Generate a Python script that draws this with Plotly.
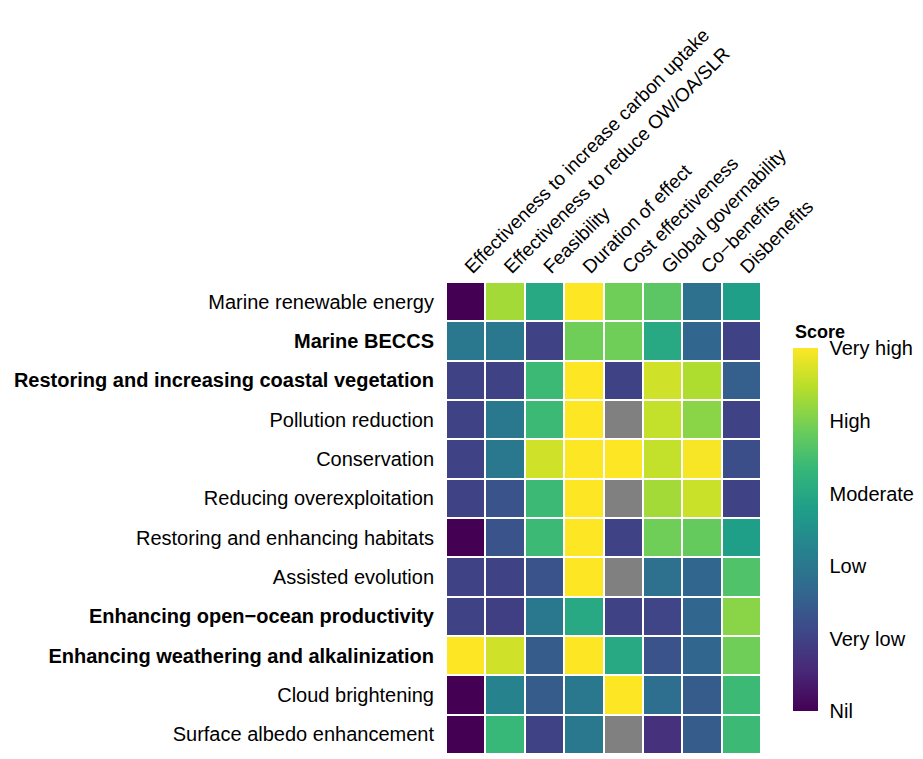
import numpy as np
import plotly.graph_objects as go

criteria = [
    "Effectiveness to increase carbon uptake",
    "Effectiveness to reduce OW/OA/SLR",
    "Feasibility",
    "Duration of effect",
    "Cost effectiveness",
    "Global governability",
    "Co\u2212benefits",
    "Disbenefits",
]

options = [
    "Marine renewable energy",
    "<b>Marine BECCS</b>",
    "<b>Restoring and increasing coastal vegetation</b>",
    "Pollution reduction",
    "Conservation",
    "Reducing overexploitation",
    "Restoring and enhancing habitats",
    "Assisted evolution",
    "<b>Enhancing open\u2212ocean productivity</b>",
    "<b>Enhancing weathering and alkalinization</b>",
    "Cloud brightening",
    "Surface albedo enhancement",
]

# scores 0 (Nil) .. 5 (Very high); None = not assessed
scores = [
    [0.0, 4.3, 3.0, 5.0, 3.9, 3.7, 1.85, 2.8],
    [2.0, 2.0, 1.0, 3.9, 3.9, 3.0, 1.65, 1.0],
    [1.0, 1.0, 3.4, 5.0, 1.0, 4.65, 4.4, 1.5],
    [1.0, 2.0, 3.4, 5.0, None, 4.55, 4.1, 1.0],
    [1.0, 2.0, 4.65, 5.0, 5.0, 4.55, 4.95, 1.2],
    [1.0, 1.3, 3.4, 5.0, None, 4.3, 4.6, 1.0],
    [0.0, 1.3, 3.4, 5.0, 1.0, 3.9, 3.8, 2.8],
    [1.0, 1.0, 1.3, 5.0, None, 1.85, 1.65, 3.6],
    [1.0, 0.95, 2.0, 3.0, 1.0, 1.05, 1.65, 4.1],
    [5.0, 4.65, 1.45, 5.0, 3.0, 1.3, 1.65, 3.9],
    [0.0, 2.25, 1.45, 2.0, 5.0, 1.8, 1.45, 3.4],
    [0.0, 3.35, 1.0, 2.0, None, 0.7, 1.45, 3.4],
]

score_vals = [0, 1, 2, 3, 4, 5]
score_text = ["Nil", "Very low", "Low", "Moderate", "High", "Very high"]

z = np.array([[np.nan if v is None else v for v in row] for row in scores])
na = np.where(np.isnan(z), 1.0, np.nan)

font = "Liberation Sans, Arial, sans-serif"

fig = go.Figure()
fig.add_trace(go.Heatmap(
    z=na, x=criteria, y=options,
    colorscale=[[0, "#808080"], [1, "#808080"]],
    showscale=False, xgap=2, ygap=2, hoverinfo="skip",
))
fig.add_trace(go.Heatmap(
    z=z, x=criteria, y=options,
    colorscale="Viridis", zmin=0, zmax=5,
    xgap=2, ygap=2,
    colorbar=dict(
        tickvals=score_vals, ticktext=score_text,
        ticks="outside", ticklen=8, tickcolor="white",
        tickfont=dict(size=20, color="black"),
        thickness=25, len=0.77, y=0.475, yanchor="middle",
        x=1.1, xanchor="left", outlinewidth=0, xpad=0, ypad=0,
    ),
))

fig.add_annotation(
    text="<b>Score</b>", xref="paper", yref="paper", x=1.1, y=0.895,
    xanchor="left", yanchor="middle", showarrow=False,
    font=dict(size=18, color="black"),
)

fig.update_layout(
    width=923, height=759,
    margin=dict(l=438, r=170, t=274, b=13),
    plot_bgcolor="white", paper_bgcolor="white",
    font=dict(family=font, color="black", size=20),
    xaxis=dict(side="top", tickangle=-45, showgrid=False, zeroline=False,
               ticks="", automargin=False, tickfont=dict(size=19, color="black")),
    yaxis=dict(autorange="reversed", showgrid=False, zeroline=False,
               ticks="", automargin=False, ticklabelstandoff=11,
               tickfont=dict(size=20, color="black")),
)

fig.write_html("out.html")
